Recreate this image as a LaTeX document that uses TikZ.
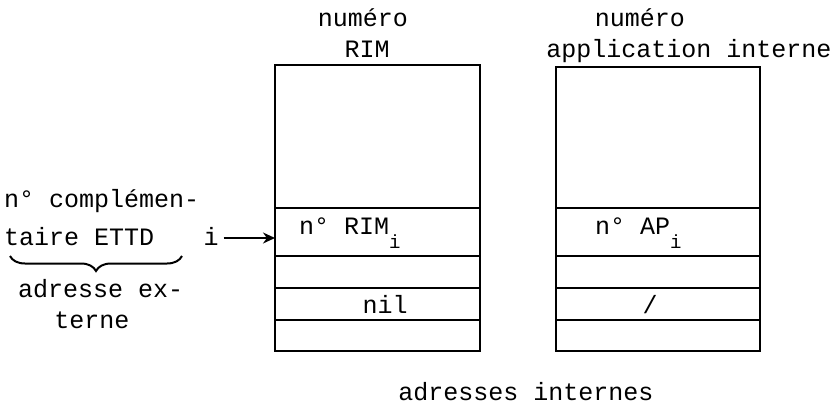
\documentclass[tikz,border=0pt]{standalone}
\usepackage{fontspec}
\setmonofont{Liberation Mono}
\usetikzlibrary{decorations.pathreplacing,arrows.meta}
\begin{document}
\begin{tikzpicture}[x=1pt,y=-1pt,
  lbl/.style={font=\ttfamily\fontsize{25}{30}\selectfont, inner sep=0pt, anchor=base},
  lblw/.style={lbl, anchor=base west},
  cell/.style={line width=1.5pt}]
\newcommand{\subi}{\raisebox{-14pt}{\fontsize{19}{19}\selectfont i}}
\useasboundingbox (0,0) rectangle (833,410);
% left table
\draw[cell] (275,65) rectangle (480,351);
\foreach \y in {208,256,288,320} \draw[cell] (275,\y) -- (480,\y);
% right table
\draw[cell] (556,67) rectangle (760,351);
\foreach \y in {208,256,288,320} \draw[cell] (556,\y) -- (760,\y);
\node[lbl] (num1) at (363,26) {numéro};
\node[lbl] (rim) at (367,57) {RIM};
\node[lbl] (num2) at (640,26) {numéro};
\node[lbl] (app) at (689,57) {application interne};
\node[lblw] (c1) at (4,207) {n° complémen-};
\node[lblw] (c2) at (4,245) {taire ETTD};
\node[lbl] (ci) at (211,245) {i};
\coordinate (arre) at (275,238);
\draw[line width=1.5pt,-{Stealth[length=12pt,width=11pt]}] (ci.east |- arre) ++(5,0) -- (arre);
\node[lblw] (rimi) at (299,234) {n° RIM\subi};
\node[lblw] (api) at (595,234) {n° AP\subi};
\node[lbl] (nil) at (385,313) {nil};
\node[lbl] (sl) at (650,313) {/};
\coordinate (b1) at (10,256);
\coordinate (b2) at (182,256);
\draw[line width=2pt,decorate,decoration={brace,mirror,amplitude=15pt}] (b1) -- (b2);
\node[lblw] (ad1) at (18,297) {adresse ex-};
\node[lbl] (ad2) at (92,328) {terne};
\node[lbl] (ai) at (526,400) {adresses internes};
\end{tikzpicture}
\end{document}
